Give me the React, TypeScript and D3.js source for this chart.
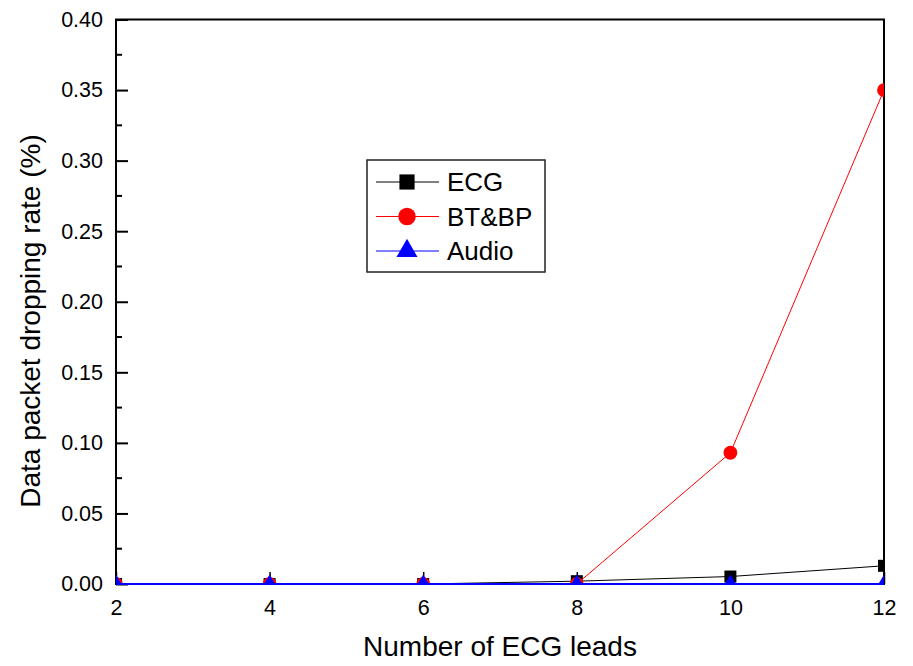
import React, { useRef, useEffect } from "react";
import * as d3 from "d3";

// number of ECG leads
const leads = [2, 4, 6, 8, 10, 12];
// packet dropping rate (%) per series
const ecgRate = [0, 0, 0, 0.002, 0.0053, 0.0129];
const btbpRate = [0, 0, 0, 0, 0.093, 0.35];
const audioRate = [0, 0, 0, 0, 0, 0];

const xTicks = [2, 4, 6, 8, 10, 12];
const yTicks = [0, 0.05, 0.1, 0.15, 0.2, 0.25, 0.3, 0.35, 0.4];

const series = [
  { name: "ECG", values: ecgRate, color: "black", symbol: d3.symbolSquare, size: 144 },
  { name: "BT&BP", values: btbpRate, color: "red", symbol: d3.symbolCircle, size: 150 },
  { name: "Audio", values: audioRate, color: "blue", symbol: d3.symbolTriangle, size: 120 },
];

const FONT = "'Liberation Sans', Arial, sans-serif";

const App = () => {
  const svgRef = useRef<SVGSVGElement>(null);

  useEffect(() => {
    const svg = d3.select(svgRef.current);
    svg.selectAll("*").remove();

    const width = 913;
    const height = 666;
    const margin = { top: 19.5, right: 29, bottom: 82, left: 116 };
    const x0 = margin.left;
    const x1 = width - margin.right;
    const y0 = height - margin.bottom;
    const y1 = margin.top;

    const xScale = d3.scaleLinear().domain([2, 12]).range([x0, x1]);
    const yScale = d3.scaleLinear().domain([0, 0.4]).range([y0, y1]);

    svg
      .append("defs")
      .append("clipPath")
      .attr("id", "plot-clip")
      .append("rect")
      .attr("x", x0)
      .attr("y", y1)
      .attr("width", x1 - x0)
      .attr("height", y0 - y1 + 1);

    // frame
    svg
      .append("rect")
      .attr("x", x0)
      .attr("y", y1)
      .attr("width", x1 - x0)
      .attr("height", y0 - y1)
      .attr("fill", "none")
      .attr("stroke", "black")
      .attr("stroke-width", 2);

    // y ticks (inward), major + minor
    const yAxis = d3
      .axisLeft(yScale)
      .tickValues(yTicks)
      .tickSize(-12)
      .tickPadding(13)
      .tickFormat((d) => d3.format(".2f")(d as number));
    const gy = svg.append("g").attr("transform", `translate(${x0},0)`).call(yAxis);
    gy.select(".domain").remove();
    gy.selectAll(".tick line").attr("stroke", "black").attr("stroke-width", 2);
    gy.selectAll(".tick text")
      .attr("font-family", FONT)
      .attr("font-size", 21.5)
      .attr("fill", "black");

    const minorY = d3.range(0.025, 0.4, 0.05);
    svg
      .append("g")
      .selectAll("line")
      .data(minorY)
      .join("line")
      .attr("x1", x0)
      .attr("x2", x0 + 6)
      .attr("y1", (d) => yScale(d))
      .attr("y2", (d) => yScale(d))
      .attr("stroke", "black")
      .attr("stroke-width", 2);

    // x ticks (inward)
    const xAxis = d3
      .axisBottom(xScale)
      .tickValues(xTicks)
      .tickSize(-12)
      .tickPadding(16)
      .tickFormat((d) => String(d));
    const gx = svg.append("g").attr("transform", `translate(0,${y0})`).call(xAxis);
    gx.select(".domain").remove();
    gx.selectAll(".tick line").attr("stroke", "black").attr("stroke-width", 1.5);
    gx.selectAll(".tick text")
      .attr("font-family", FONT)
      .attr("font-size", 21.5)
      .attr("fill", "black");

    // axis titles
    svg
      .append("text")
      .attr("x", 500)
      .attr("y", 656)
      .attr("text-anchor", "middle")
      .attr("font-family", FONT)
      .attr("font-size", 28)
      .text("Number of ECG leads");

    svg
      .append("text")
      .attr("transform", `translate(40,321) rotate(-90)`)
      .attr("text-anchor", "middle")
      .attr("font-family", FONT)
      .attr("font-size", 28)
      .text("Data packet dropping rate (%)");

    // series
    const plot = svg.append("g").attr("clip-path", "url(#plot-clip)");
    const line = d3
      .line<number>()
      .x((_, i) => xScale(leads[i]))
      .y((d) => yScale(d));

    series.forEach((s) => {
      plot
        .append("path")
        .datum(s.values)
        .attr("fill", "none")
        .attr("stroke", s.color)
        .attr("stroke-width", s.name === "Audio" ? 2 : 1)
        .attr("d", line);
      plot
        .append("g")
        .selectAll("path")
        .data(s.values)
        .join("path")
        .attr("transform", (d, i) => `translate(${xScale(leads[i])},${yScale(d)})`)
        .attr("d", d3.symbol().type(s.symbol).size(s.size)())
        .attr("fill", s.color);
    });

    // legend
    const lg = svg.append("g").attr("transform", "translate(367,160)");
    lg.append("rect")
      .attr("width", 178)
      .attr("height", 112)
      .attr("fill", "white")
      .attr("stroke", "#222")
      .attr("stroke-width", 1.5);
    series.forEach((s, i) => {
      const cy = 22 + i * 34.5;
      lg.append("line")
        .attr("x1", 9)
        .attr("x2", 72)
        .attr("y1", cy)
        .attr("y2", cy)
        .attr("stroke", s.color)
        .attr("stroke-width", 1);
      lg.append("path")
        .attr("transform", `translate(40,${cy})`)
        .attr("d", d3.symbol().type(s.symbol).size(s.size * 1.6)())
        .attr("fill", s.color);
      lg.append("text")
        .attr("x", 80)
        .attr("y", cy)
        .attr("dy", "0.36em")
        .attr("font-family", FONT)
        .attr("font-size", 26)
        .text(s.name);
    });
  }, []);

  return (
    <>
      <style>{`body{margin:0}`}</style>
      <svg ref={svgRef} width={913} height={666} style={{ display: "block", background: "white" }}></svg>
    </>
  );
};

export default App;
